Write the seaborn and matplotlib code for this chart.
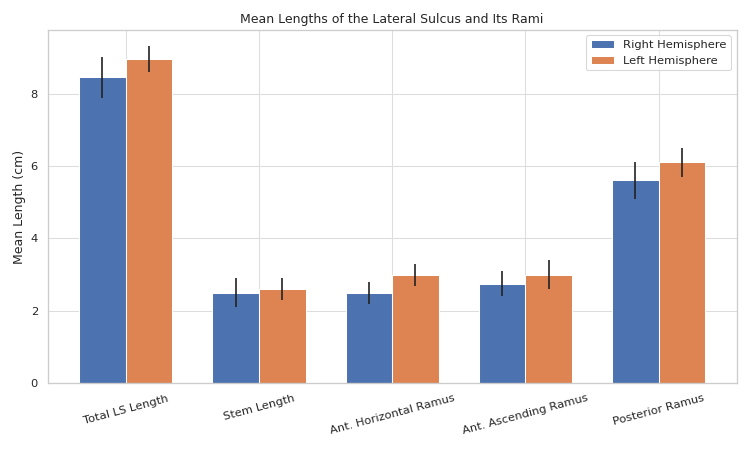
import numpy as np
import pandas as pd
import seaborn as sns
import matplotlib
matplotlib.use("Agg")
import matplotlib.pyplot as plt

categories = ["Total LS Length", "Stem Length", "Ant. Horizontal Ramus",
              "Ant. Ascending Ramus", "Posterior Ramus"]
right_mean = [8.45, 2.5, 2.5, 2.75, 5.6]
right_err = [0.57, 0.4, 0.3, 0.35, 0.5]
left_mean = [8.95, 2.6, 3.0, 3.0, 6.1]
left_err = [0.36, 0.3, 0.3, 0.4, 0.4]
groups = ["Right Hemisphere", "Left Hemisphere"]

sns.set_theme(style="whitegrid")

df = pd.DataFrame({
    "measure": categories * 2,
    "hemisphere": [groups[0]] * len(categories) + [groups[1]] * len(categories),
    "length": right_mean + left_mean,
    "err": right_err + left_err,
})

fig, ax = plt.subplots(figsize=(10, 6), dpi=75)
sns.barplot(data=df, x="measure", y="length", hue="hemisphere",
            hue_order=groups, order=categories, width=0.7,
            errorbar=None, saturation=1, ax=ax)

# error bars at the centre of each drawn bar
x = np.arange(len(categories))
for i, g in enumerate(groups):
    sub = df[df.hemisphere == g].set_index("measure").loc[categories]
    offset = (-0.175, 0.175)[i]
    ax.errorbar(x + offset, sub["length"], yerr=sub["err"], fmt="none",
                ecolor="#222222", elinewidth=1.6, capsize=0)

ax.xaxis.grid(True)
ax.grid(color="#dddddd")
ax.set_xlim(-0.585, len(categories) - 1 + 0.585)
ax.set_ylim(0, 9.76)
ax.set_xlabel("")
ax.set_ylabel("Mean Length (cm)")
ax.set_title("Mean Lengths of the Lateral Sulcus and Its Rami")
plt.setp(ax.get_xticklabels(), rotation=15)
sns.move_legend(ax, "upper right", title=None)

plt.tight_layout()
plt.savefig("out.png", dpi=75)
